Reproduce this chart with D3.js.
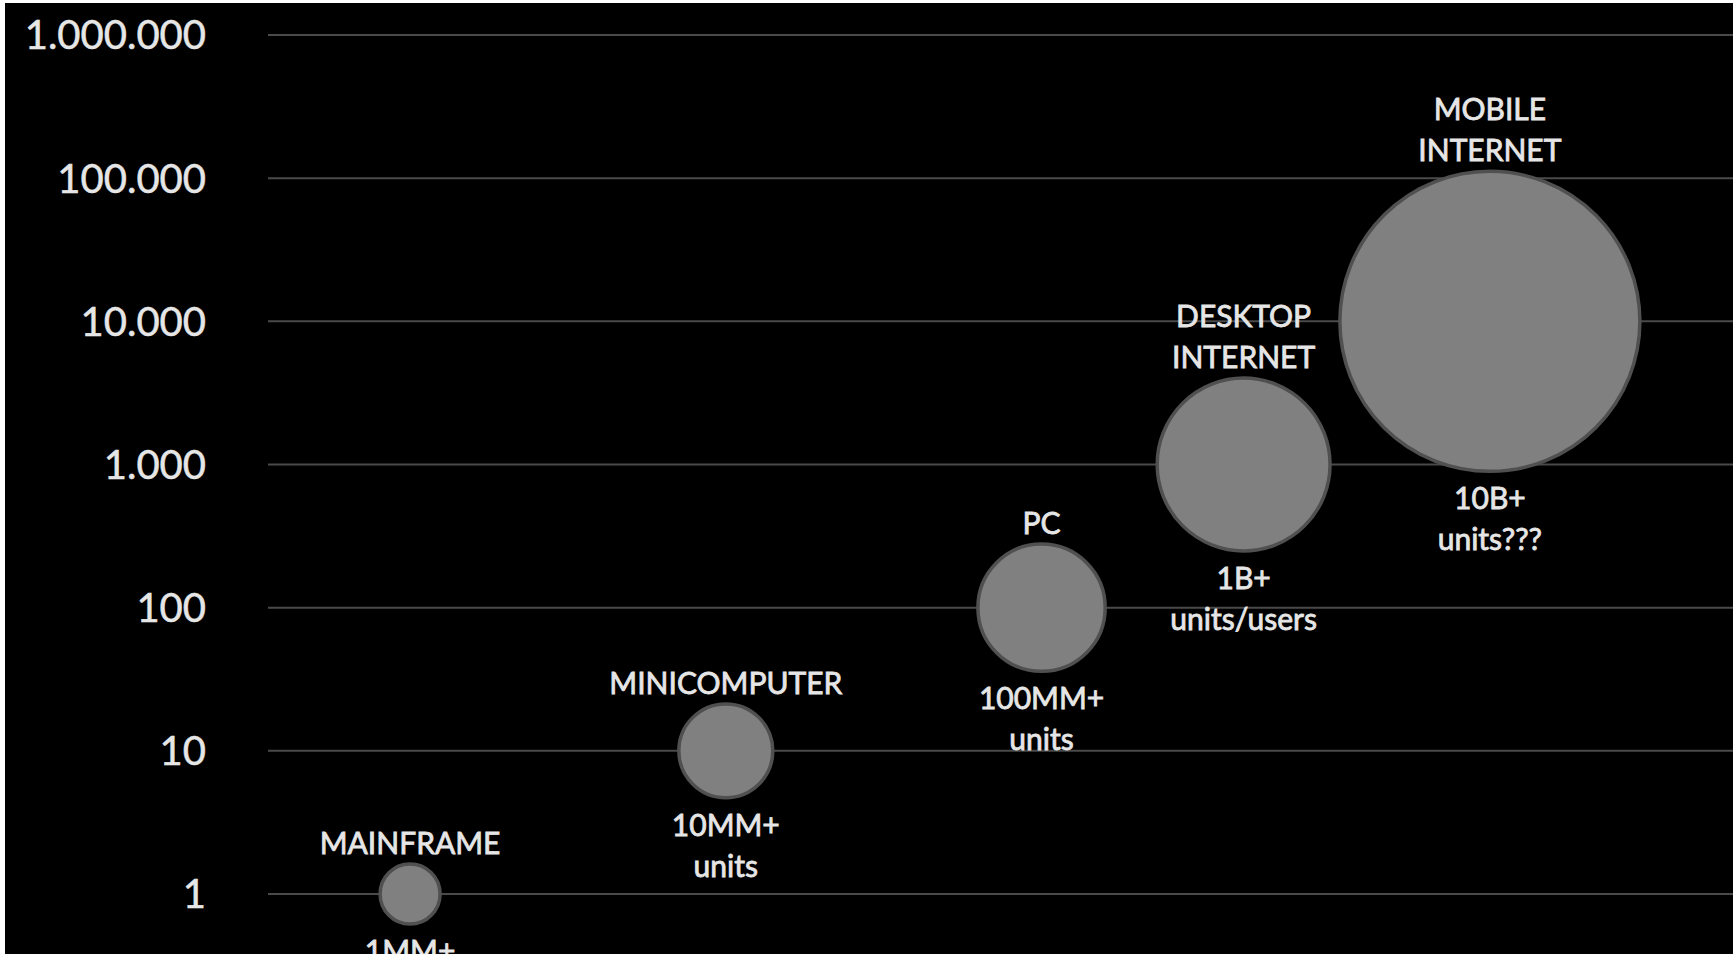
<!DOCTYPE html>
<html>
<head>
<meta charset="utf-8">
<script src="https://cdn.jsdelivr.net/npm/d3@7"></script>
<style>
  html, body { margin: 0; padding: 0; background: #fff; }
  svg { display: block; }
</style>
</head>
<body>
<div id="chart"></div>
<script>
// eras on the chart, left to right
const eras = ["MAINFRAME", "MINICOMPUTER", "PC", "DESKTOP INTERNET", "MOBILE INTERNET"];
const nameLines = [["MAINFRAME"], ["MINICOMPUTER"], ["PC"], ["DESKTOP", "INTERNET"], ["MOBILE", "INTERNET"]];
const unitLines = [["1MM+", "units"], ["10MM+", "units"], ["100MM+", "units"], ["1B+", "units/users"], ["10B+", "units???"]];
// x position (era index, not evenly spaced), y value (log), bubble size
const xValues = [1, 2, 3, 3.64, 4.42];
const yValues = [1, 10, 100, 1000, 10000];
const bubbleSizes = [1, 2.45, 4.5, 8.3, 25];
const yTicks = [1, 10, 100, 1000, 10000, 100000, 1000000];

const W = 1733, H = 954;

const svg = d3.select("#chart").append("svg")
  .attr("width", W)
  .attr("height", H);

// black slide area (thin white strip at left/top like the original)
svg.append("rect")
  .attr("x", 5).attr("y", 3)
  .attr("width", W - 5).attr("height", H - 3)
  .attr("fill", "#000");

const x = d3.scaleLinear().domain([0.55, 5.19]).range([268, W]);
const y = d3.scaleLog().domain([1, 1000000]).range([894, 35]);
const r = d3.scaleSqrt().domain([0, 25]).range([0, 150]);

const fmt = d3.formatLocale({ decimal: ",", thousands: ".", grouping: [3], currency: ["", ""] }).format(",d");

const font = "Lato, 'Open Sans', sans-serif";
const textColor = "#e6e6e6";

// gridlines
svg.append("g")
  .selectAll("line")
  .data(yTicks)
  .enter()
  .append("line")
  .attr("x1", x.range()[0])
  .attr("x2", x.range()[1])
  .attr("y1", d => y(d))
  .attr("y2", d => y(d))
  .attr("stroke", "#4a4a4a")
  .attr("stroke-width", 2);

// y tick labels
svg.append("g")
  .selectAll("text")
  .data(yTicks)
  .enter()
  .append("text")
  .attr("x", 206)
  .attr("y", d => y(d))
  .attr("dy", "0.36em")
  .attr("text-anchor", "end")
  .style("font-family", font)
  .style("font-size", "40px")
  .style("fill", textColor)
  .style("stroke", textColor)
  .style("stroke-width", 0.5)
  .text(d => fmt(d));

const data = eras.map((e, i) => ({
  name: e,
  names: nameLines[i],
  units: unitLines[i],
  x: xValues[i],
  y: yValues[i],
  size: bubbleSizes[i]
}));

// bubbles
svg.append("g")
  .selectAll("circle")
  .data(data)
  .enter()
  .append("circle")
  .attr("cx", d => x(d.x))
  .attr("cy", d => y(d.y))
  .attr("r", d => r(d.size))
  .attr("fill", "#808080")
  .attr("stroke", "#505050")
  .attr("stroke-width", 3.5);

const lineH = 41;

function addLabel(g, tx, ty, t) {
  g.append("text")
    .attr("x", tx)
    .attr("y", ty)
    .attr("text-anchor", "middle")
    .style("font-family", font)
    .style("font-size", "30px")
    .style("fill", textColor)
    .style("stroke", textColor)
    .style("stroke-width", 0.8)
    .text(t);
}

// labels above and below the bubbles
const labels = svg.append("g");
data.forEach(d => {
  const cx = x(d.x), cy = y(d.y), rr = r(d.size);
  const n = d.names.length;
  d.names.forEach((t, j) => addLabel(labels, cx, cy - rr - 10 - (n - 1 - j) * lineH, t));
  d.units.forEach((t, j) => addLabel(labels, cx, cy + rr + 38 + j * lineH, t));
});
</script>
</body>
</html>
